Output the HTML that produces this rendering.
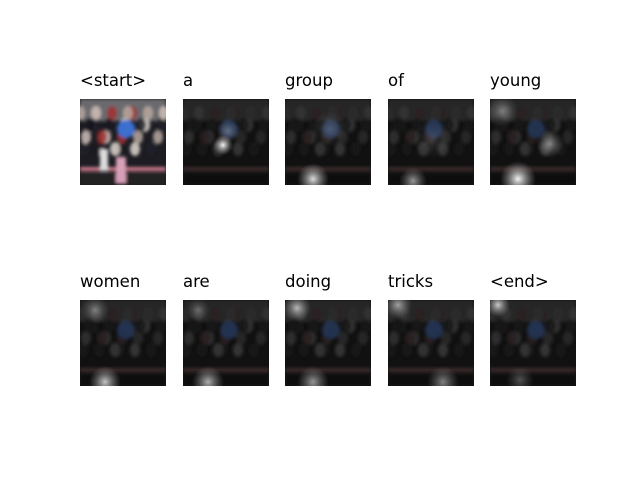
<!DOCTYPE html>
<html><head><meta charset="utf-8"><style>
body{margin:0;background:#fff;}
svg{display:block;font-family:"DejaVu Sans","Liberation Sans",sans-serif;}
</style></head><body>
<svg id="fig" width="640" height="480" viewBox="0 0 640 480" xmlns="http://www.w3.org/2000/svg">
<defs>
<radialGradient id="spot"><stop offset="0" stop-color="#fff" stop-opacity="0.95"/><stop offset="0.5" stop-color="#ddd" stop-opacity="0.45"/><stop offset="1" stop-color="#aaa" stop-opacity="0"/></radialGradient>
<clipPath id="pc"><rect x="0" y="0" width="86" height="86"/></clipPath>
<filter id="blur"><feGaussianBlur stdDeviation="1.5"/></filter>
</defs>
<g id="panels"></g>
</svg>
<script>
const words = ["<start>","a","group","of","young","women","are","doing","tricks","<end>"];
// attention spots per word: [cx, cy, radius, intensity] in panel coords (0-86)
const spots = [
 [],
 [[40,46,10,1],[45,32,12,0.3]],
 [[28,80,16,0.9],[45,30,18,0.2]],
 [[25,82,14,0.6],[45,40,20,0.15]],
 [[28,80,18,1],[60,45,14,0.5],[12,12,16,0.4]],
 [[25,82,16,0.8],[15,10,14,0.4]],
 [[25,82,16,0.7],[15,10,12,0.3]],
 [[28,82,16,0.6],[12,8,14,0.7]],
 [[55,82,16,0.5],[10,5,14,0.6]],
 [[8,5,12,0.8],[30,80,14,0.3]]
];
const colX = [80,183,285,388,490];
const rowY = [99,300];
const S = 86;
const g = document.getElementById('panels');
const NS = 'http://www.w3.org/2000/svg';
function el(t,a,p){const e=document.createElementNS(NS,t);for(const k in a)e.setAttribute(k,a[k]);(p||g).appendChild(e);return e;}
words.forEach((w,i)=>{
  const x = colX[i%5], y = rowY[Math.floor(i/5)];
  const grp = el('g',{transform:`translate(${x},${y})`});
  
  
  const t = el('text',{x:0,y:-13,'font-size':16.5,fill:'#000'},grp);
  t.textContent = w;
  
  
  const bright = i===0;
  const img = el('g',{'clip-path':'url(#pc)'},grp);
  el('rect',{x:0,y:0,width:S,height:S,fill:bright?'#1c1c22':'#111'},img);
  const sc = el('g',{filter:'url(#blur)'},img);
  el('rect',{x:0,y:0,width:S,height:22,fill:bright?'#6a6a6e':'#282828'},sc);
  const cols = bright?['#b8a8a0','#202028','#d0c0b8','#18181e','#a03030','#e0d8d0']:['#2c2c2c','#161616','#333','#141414','#2c2222','#383838'];
  for(let k=0;k<26;k++){el('ellipse',{cx:(k*13)%88, cy:14+(k%4)*12, rx:5, ry:7, fill:cols[k%6], opacity:0.85},sc);}
  el('circle',{cx:46,cy:30,r:9,fill:bright?'#3a70d0':'#243250'},sc);
  el('rect',{x:0,y:68,width:S,height:4,fill:bright?'#c87888':'#3a2c2c'},sc);
  el('rect',{x:0,y:74,width:S,height:12,fill:bright?'#202020':'#0e0e0e'},sc);
  if(bright){el('rect',{x:36,y:58,width:10,height:26,fill:'#d8a0b8'},sc);el('rect',{x:20,y:50,width:8,height:22,fill:'#ddd'},sc);}
  spots[i].forEach(s=>{
    const c = el('circle',{cx:s[0],cy:s[1],r:s[2],fill:'url(#spot)',opacity:s[3]},img);
    
    
  });
});
</script>
</body></html>
